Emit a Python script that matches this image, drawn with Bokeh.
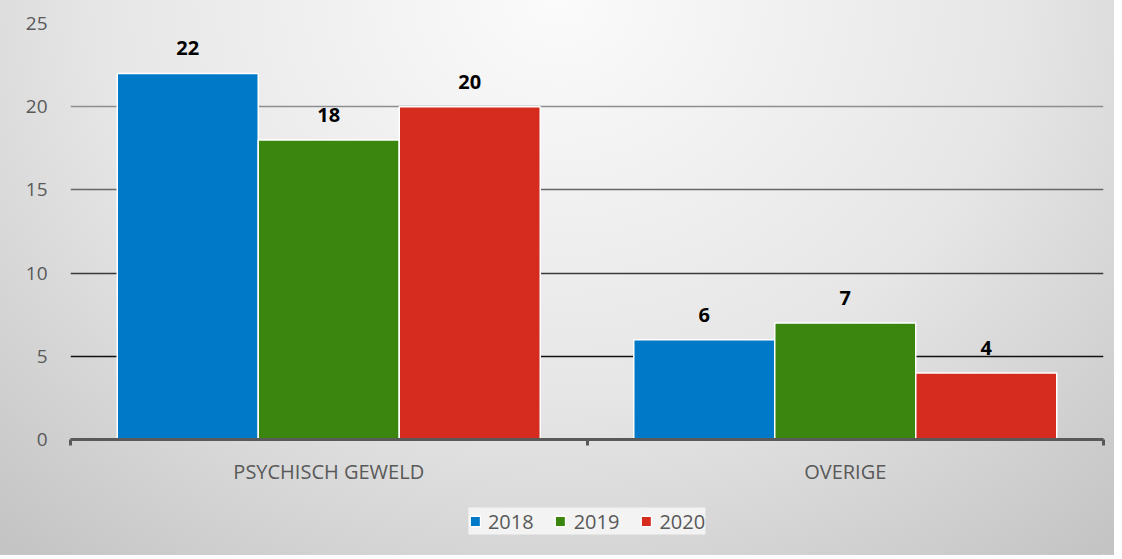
from bokeh.plotting import figure
from bokeh.layouts import column
from bokeh.models import (ColumnDataSource, Range1d, LinearAxis,
                          FixedTicker, Grid, LabelSet, Legend, LegendItem)
from bokeh.core.properties import value
from bokeh.transform import dodge
from bokeh.embed import file_html
from bokeh.resources import INLINE

categories = ["PSYCHISCH GEWELD", "OVERIGE"]
years = ["2018", "2019", "2020"]
v2018 = [22, 6]
v2019 = [18, 7]
v2020 = [20, 4]
y_ticks = [0, 5, 10, 15, 20, 25]

colors = ["#0079c9", "#3b860f", "#d62c20"]
grid_colors = {25: "#c8c8c8", 20: "#8e8e8e", 15: "#676767", 10: "#3a3a3a", 5: "#111111"}
FONT = "Open Sans"
TXT = "#595959"

n = len(categories)
centers = [i + 0.5 for i in range(n)]
src = ColumnDataSource(dict(x=centers, v2018=v2018, v2019=v2019, v2020=v2020,
                            l2018=[str(v) for v in v2018], l2019=[str(v) for v in v2019],
                            l2020=[str(v) for v in v2020]))

p = figure(frame_width=1033, frame_height=416, x_range=Range1d(0, n),
           y_range=Range1d(0, 25), output_backend="svg", toolbar_location=None,
           x_axis_location=None, y_axis_location=None,
           min_border_left=70, min_border_right=11, min_border_top=23, min_border_bottom=0)
p.outline_line_color = None
p.background_fill_color = None
p.border_fill_color = None
p.xgrid.visible = False
p.ygrid.visible = False

for t, c in grid_colors.items():
    g = Grid(dimension=1, ticker=FixedTicker(ticks=[t]), grid_line_color=c, grid_line_width=1.6)
    p.add_layout(g)

# y axis
yax = LinearAxis(ticker=FixedTicker(ticks=y_ticks, minor_ticks=[]), axis_line_color=None,
                 major_tick_line_color=None, minor_tick_line_color=None,
                 major_label_text_font=FONT, major_label_text_font_size="19px",
                 major_label_text_color=TXT, major_label_standoff=17)
p.add_layout(yax, "left")

# tick axis at category boundaries
tax = LinearAxis(ticker=FixedTicker(ticks=list(range(n + 1)), minor_ticks=[]),
                 axis_line_color="#595959", axis_line_width=3,
                 major_tick_line_color="#595959", major_tick_line_width=3,
                 major_tick_in=0, major_tick_out=6, minor_tick_line_color=None,
                 major_label_text_font_size="0px", major_label_standoff=0)
p.add_layout(tax, "below")

# category label axis
cax = LinearAxis(ticker=FixedTicker(ticks=centers, minor_ticks=[]),
                 major_label_overrides={c: name for c, name in zip(centers, categories)},
                 axis_line_color=None, major_tick_line_color=None, minor_tick_line_color=None,
                 major_label_text_font=FONT, major_label_text_font_size="20px",
                 major_label_text_color=TXT, major_label_standoff=6)
p.add_layout(cax, "below")

w = 0.273
offs = [-w, 0, w]
for yr, col, off in zip(years, colors, offs):
    p.vbar(x=dodge("x", off), top="v" + yr, width=w, source=src,
           fill_color=col, line_color="white", line_width=1.5)
    lab = LabelSet(x=dodge("x", off), y="v" + yr, text="l" + yr, source=src,
                   text_align="center", text_baseline="alphabetic", y_offset=18,
                   text_font=value(FONT), text_font_size="20px", text_font_style="bold",
                   text_color="black")
    p.add_layout(lab)

# legend strip below the chart
p2 = figure(width=1114, height=68, x_range=Range1d(-10, -9), y_range=Range1d(100, 101),
            output_backend="svg", toolbar_location=None,
            x_axis_location=None, y_axis_location=None, min_border=0)
p2.outline_line_color = None
p2.background_fill_color = None
p2.border_fill_color = None
p2.xgrid.visible = False
p2.ygrid.visible = False
items = []
for yr, col, off in zip(years, colors, offs):
    r = p2.vbar(x=dodge("x", off), top="v" + yr, width=w, source=src,
                fill_color=col, line_color="white", line_width=1.5)
    items.append(LegendItem(label=yr, renderers=[r]))

legend = Legend(items=items, orientation="horizontal", location="center",
                background_fill_color="#f3f3f3", background_fill_alpha=1.0, border_line_color=None,
                label_text_font=FONT, label_text_font_size="20px", label_text_color=TXT,
                glyph_width=13, glyph_height=13, spacing=20, padding=9, margin=0,
                label_standoff=7)
p2.add_layout(legend, "center")

layout = column(p, p2, spacing=0,
                styles={"background-image": "radial-gradient(ellipse 75% 130% at 50% 0%, #fbfbfb 0%, #e6e6e6 55%, #c4c4c4 100%)"})

open("out.html", "w").write(file_html(layout, INLINE))
